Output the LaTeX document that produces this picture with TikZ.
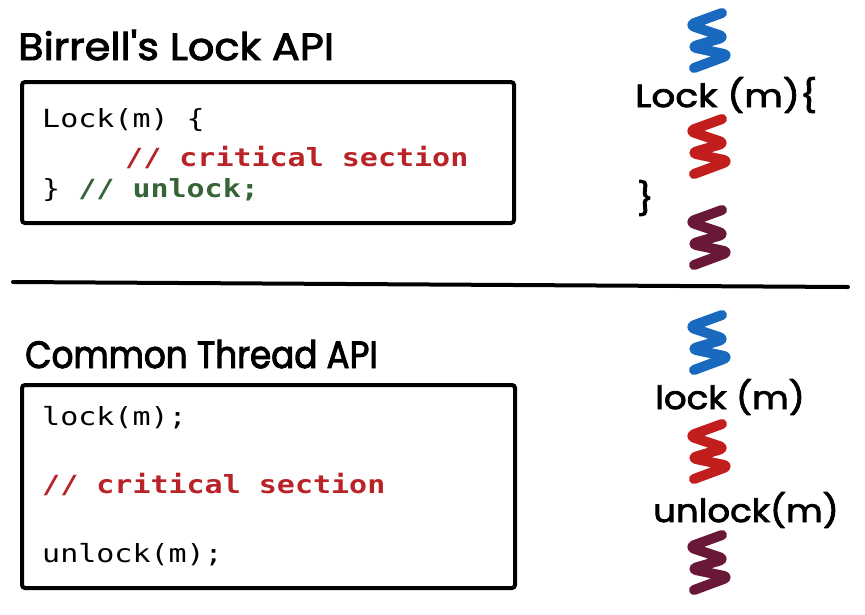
\documentclass[tikz,border=0pt]{standalone}
\usepackage{fontspec}
\newfontfamily\codefont[FakeStretch=1.2]{DejaVu Sans Mono}
\newfontfamily\handA[FakeStretch=1.09,FakeBold=2.5]{Poppins}
\newfontfamily\handB[FakeStretch=0.9,FakeBold=2.5]{Poppins}
\newfontfamily\handC[FakeStretch=1.11,FakeBold=2.5]{Poppins}
\newfontfamily\handD[FakeStretch=1.17,FakeBold=2.5]{Poppins}
\definecolor{codered}{RGB}{185,35,40}
\definecolor{codegreen}{RGB}{55,100,55}
\definecolor{sqblue}{RGB}{25,105,190}
\definecolor{sqred}{RGB}{195,30,30}
\definecolor{sqmaroon}{RGB}{105,25,55}
\tikzset{
  codebox/.style={draw=black, line width=4pt, rounded corners=3pt, anchor=north west, inner sep=0pt},
  code/.style={anchor=base west, inner sep=0pt, font=\codefont\fontsize{25}{30}\selectfont},
  codebold/.style={code, font=\codefont\bfseries\fontsize{25}{30}\selectfont},
  titleA/.style={anchor=base west, inner sep=0pt, font=\handA\fontsize{38}{44}\selectfont},
  titleB/.style={anchor=base west, inner sep=0pt, font=\handB\fontsize{38}{44}\selectfont},
  hand/.style={anchor=base west, inner sep=0pt, font=\handC\fontsize{32}{38}\selectfont},
  handwide/.style={anchor=base west, inner sep=0pt, font=\handD\fontsize{32}{38}\selectfont},
  squig/.pic={\draw[line width=10pt, line cap=round, line join=round, rounded corners=6pt]
     (37,5) -- (4,17) -- (40,29) -- (6,39) -- (44,47) -- (9,60);}
}
\begin{document}
\begin{tikzpicture}[x=1pt,y=-1pt]
\useasboundingbox (0,0) rectangle (865,614);
% titles
\node[titleA] (t1) at (18,60) {Birrell's Lock API};
\node[titleB] (t2) at (25,368) {Common Thread API};
% boxes
\node[codebox, minimum width=492pt, minimum height=141pt] (box1) at (20,80) {};
\node[codebox, minimum width=493pt, minimum height=203pt] (box2) at (20,383) {};
% box1 code
\node[code] (b1l1) at (42,127) {Lock(m) \{};
\node[codebold, text=codered] (b1l2) at (125,166) {// critical section};
\node[code] (b1l3) at (42,197) {\}\textcolor{codegreen}{\bfseries\ // unlock;}};
% box2 code
\node[code] (b2l1) at (42,425) {lock(m);};
\node[codebold, text=codered] (b2l2) at (42,493) {// critical section};
\node[code] (b2l3) at (42,562) {unlock(m);};
% divider
\coordinate (dl) at (13,282);
\coordinate (dr) at (848,287);
\draw[line width=4pt, line cap=round] (dl) -- (dr);
% right side thread sketches
\pic[color=sqblue] at (685,8) {squig};
\pic[color=sqred] at (685,114) {squig};
\pic[color=sqmaroon] at (685,205) {squig};
\node[handwide] (h1) at (635,107) {Lock (m)\{};
\node[hand] (h2) at (637,210) {\}};
\pic[color=sqblue] at (685,310) {squig};
\pic[color=sqred] at (685,419) {squig};
\pic[color=sqmaroon] at (685,530) {squig};
\node[hand] (h3) at (655,409) {lock (m)};
\node[hand] (h4) at (653,522) {unlock(m)};
\end{tikzpicture}
\end{document}
